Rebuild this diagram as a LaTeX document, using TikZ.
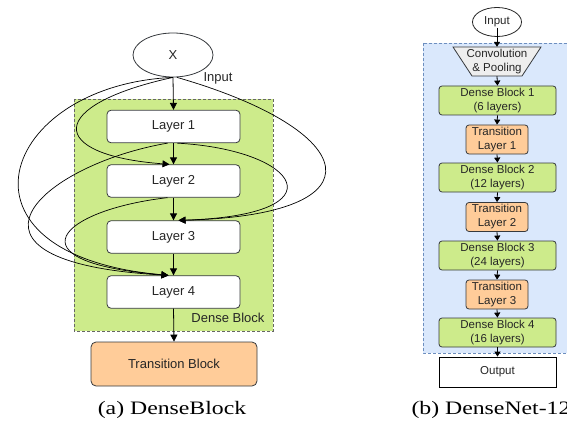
\documentclass[tikz,border=0pt]{standalone}
\usepackage{fontspec}
\setmainfont{Liberation Sans}
\newfontfamily\capfont{Liberation Serif}
\usetikzlibrary{arrows.meta,shapes.geometric,calc}
\definecolor{dgreen}{HTML}{CDEB8B}
\definecolor{dorange}{HTML}{FFCC99}
\definecolor{dblue}{HTML}{DAE8FC}
\definecolor{dblueb}{HTML}{6C8EBF}
\definecolor{dgray}{HTML}{36393D}
\definecolor{lgray}{HTML}{EEEEEE}
\begin{document}
\begin{tikzpicture}[x=1pt,y=-1pt,
 every node/.style={text=black!85},
 bigfont/.style={font=\fontsize{13}{15}\selectfont},
 smallfont/.style={font=\fontsize{11.5}{14}\selectfont},
 layerbox/.style={draw=dgray, fill=white, rounded corners=4pt, minimum width=133pt, minimum height=32.5pt, line width=0.8pt, bigfont},
 transbox/.style={draw=dgray, fill=dorange, rounded corners=5pt, minimum width=166pt, minimum height=44pt, line width=0.8pt, bigfont},
 dbox/.style={draw=dgray, fill=dgreen, rounded corners=3pt, minimum width=117pt, minimum height=29pt, line width=0.8pt, smallfont, align=center, inner sep=0pt},
 tbox/.style={draw=dgray, fill=dorange, rounded corners=3pt, minimum width=62pt, minimum height=29pt, line width=0.8pt, smallfont, align=center, inner sep=0pt},
 arr/.style={-{Triangle[length=7pt,width=7pt]}, line width=0.8pt},
 sarr/.style={-{Triangle[length=5pt,width=6pt]}, line width=0.8pt},
 curv/.style={-{Triangle[length=7pt,width=7pt]}, line width=0.7pt},
 capt/.style={font=\capfont\fontsize{19}{21}\selectfont, text=black}
]
\useasboundingbox (0,0) rectangle (567,425);
% ---------- (a) DenseBlock ----------
\draw[draw=black!60, fill=dgreen, dash pattern=on 3pt off 2pt, line width=0.8pt] (74,99) rectangle (273,331);
\node[draw=dgray, fill=white, ellipse, minimum width=80pt, minimum height=44pt, line width=0.8pt, bigfont] (X) at (173,55) {X};
\node[bigfont, anchor=west] (inlab) at (200,78) {Input};
\node[layerbox] (L1) at (173.5,126.5) {Layer 1};
\node[layerbox] (L2) at (173.5,181) {Layer 2};
\node[layerbox] (L3) at (173.5,237) {Layer 3};
\node[layerbox] (L4) at (173.5,292) {Layer 4};
\node[bigfont, anchor=east] (dblab) at (268,318) {Dense Block};
\node[transbox] (T) at (174,364) {Transition Block};
\draw[arr] (X.south) -- (L1.north);
\draw[arr] (L1.south) -- (L2.north);
\draw[arr] (L2.south) -- (L3.north);
\draw[arr] (L3.south) -- (L4.north);
\draw[arr] (L4.south) -- (T.north);
\draw[curv] (X.south) .. controls (46,105) and (46,155) .. ($(L2.north)+(-4,0)$);
\draw[curv] (X.south) .. controls (0,85) and (-60,255) .. ($(L4.north)+(-5,0)$);
\draw[curv] ($(L1.south)+(-6,0)$) .. controls (40,165) and (-66,262) .. ($(L4.north)+(-5,0)$);
\draw[curv] ($(L2.south)+(-6,0)$) .. controls (60,210) and (7,262) .. ($(L4.north)+(-5,0)$);
\draw[curv] ($(X.south)+(4,0)$) .. controls (360,130) and (387,215) .. ($(L3.north)+(5,0)$);
\draw[curv] ($(L1.south)+(4,0)$) .. controls (300,150) and (343,215) .. ($(L3.north)+(5,0)$);
\node[capt] (capa) at (172,410) {\scalebox{1.25}[1]{(a) DenseBlock}};
% ---------- (b) DenseNet ----------
\draw[draw=dblueb, fill=dblue, dash pattern=on 3pt off 2pt, line width=0.8pt] (423,43) rectangle (580,353);
\node[draw=black!85, fill=white, ellipse, minimum width=49pt, minimum height=29pt, inner sep=0pt, line width=0.8pt, smallfont] (in) at (497,22) {Input};
\draw[draw=dgray, fill=lgray, line width=0.8pt] (453,47) -- (541,47) -- (522,76) -- (472,76) -- cycle;
\node[smallfont, minimum width=88pt, minimum height=29pt, inner sep=0pt, align=center] (conv) at (497,61.5) {Convolution\\\& Pooling};
\node[dbox] (D1) at (497.5,100.5) {Dense Block 1\\(6 layers)};
\node[tbox] (T1) at (497,139.5) {Transition\\Layer 1};
\node[dbox] (D2) at (497.5,177.5) {Dense Block 2\\(12 layers)};
\node[tbox] (T2) at (497,217) {Transition\\Layer 2};
\node[dbox] (D3) at (497.5,255.5) {Dense Block 3\\(24 layers)};
\node[tbox] (T3) at (497,294.5) {Transition\\Layer 3};
\node[dbox] (D4) at (497.5,332.5) {Dense Block 4\\(16 layers)};
\node[draw=black, fill=white, minimum width=117pt, minimum height=30pt, line width=0.8pt, smallfont] (out) at (497.5,372) {Output};
\draw[sarr] ($(in.center)+(0,6)$) -- (conv.north);
\draw[sarr] (conv.south) -- (D1.north);
\draw[sarr] (D1.south) -- (T1.north);
\draw[sarr] (T1.south) -- (D2.north);
\draw[sarr] (D2.south) -- (T2.north);
\draw[sarr] (T2.south) -- (D3.north);
\draw[sarr] (D3.south) -- (T3.north);
\draw[sarr] (T3.south) -- (D4.north);
\draw[sarr] (D4.south) -- (out.north);
\node[capt, anchor=west] (capb) at (408,410) {\scalebox{1.25}[1]{(b) DenseNet-121}};
\end{tikzpicture}
\end{document}
